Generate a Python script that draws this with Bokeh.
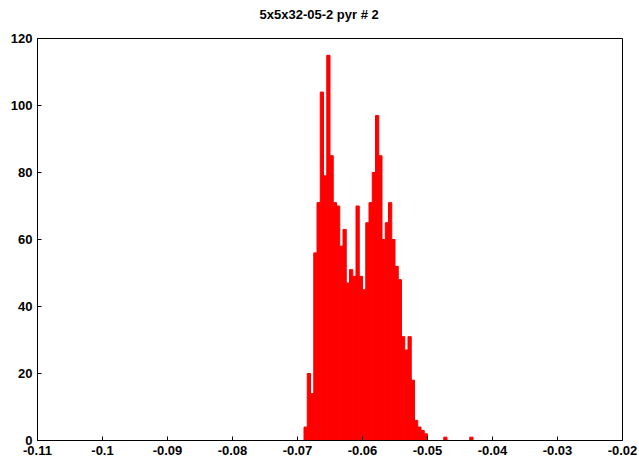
import numpy as np
from bokeh.plotting import figure
from bokeh.models import FixedTicker, Range1d, Title
from bokeh.embed import file_html
from bokeh.resources import INLINE

# ---- data ----
title_text = "5x5x32-05-2 pyr # 2"
bin_width = 0.0005
first_bin_left = -0.069
counts = [4, 20, 14, 56, 71, 104, 79, 115, 85, 71, 70, 58, 63, 47, 51, 49, 70,
          49, 45, 65, 71, 80, 97, 85, 60, 65, 71, 60, 52, 48, 31, 27, 31, 18,
          6, 4, 3, 2]
outlier_left = [-0.0475, -0.0435]
outlier_counts = [1, 1]

x_ticks = [-0.11, -0.1, -0.09, -0.08, -0.07, -0.06, -0.05, -0.04, -0.03, -0.02]
x_tick_labels = ["-0.11", "-0.1", "-0.09", "-0.08", "-0.07", "-0.06", "-0.05",
                 "-0.04", "-0.03", "-0.02"]
y_ticks = [0, 20, 40, 60, 80, 100, 120]
y_tick_labels = ["0", "20", "40", "60", "80", "100", "120"]

# ---- derived bin edges ----
left = list(first_bin_left + bin_width * np.arange(len(counts))) + outlier_left
top = counts + outlier_counts
right = [l + bin_width for l in left]

p = figure(frame_width=585, frame_height=402, output_backend="svg",
           toolbar_location=None, x_range=Range1d(-0.11, -0.02),
           y_range=Range1d(0, 120), min_border_left=37, min_border_top=38,
           min_border_right=16, min_border_bottom=24)

p.quad(left=left, right=right, top=top, bottom=0, fill_color="red",
       line_color="red", line_width=1)

p.background_fill_color = "white"
p.border_fill_color = "white"
p.outline_line_color = "black"
p.outline_line_width = 1
p.grid.visible = False

font = "Liberation Sans"
# empty spacer title (nearest the frame), then the real title above it
spacer = Title(text=" ", text_font=font, text_font_size="10px", standoff=4)
p.add_layout(spacer, "above")
main_title = Title(text=title_text, text_font=font, text_font_size="13px",
                   text_font_style="bold", text_color="black", align="left",
                   offset=222, standoff=0)
p.add_layout(main_title, "above")

for ax in (p.xaxis[0], p.yaxis[0]):
    ax.axis_line_color = "black"
    ax.major_tick_line_color = "black"
    ax.major_tick_in = 4
    ax.major_tick_out = 0
    ax.minor_tick_line_color = None
    ax.major_label_text_font = font
    ax.major_label_text_font_size = "13px"
    ax.major_label_text_font_style = "bold"
    ax.major_label_text_color = "black"
    ax.major_label_standoff = 5

p.xaxis[0].ticker = FixedTicker(ticks=x_ticks)
p.xaxis[0].major_label_overrides = dict(zip(x_ticks, x_tick_labels))
p.yaxis[0].ticker = FixedTicker(ticks=y_ticks)
p.yaxis[0].major_label_overrides = dict(zip(y_ticks, y_tick_labels))

open("out.html", "w").write(file_html(p, INLINE))
